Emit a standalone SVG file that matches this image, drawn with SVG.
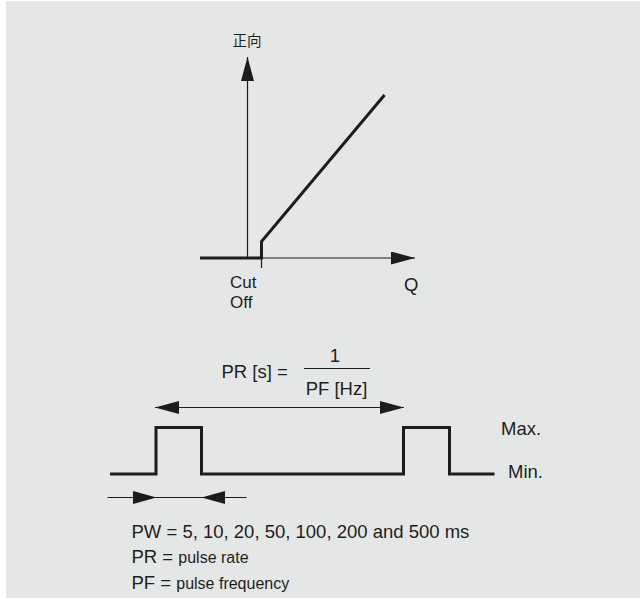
<svg xmlns="http://www.w3.org/2000/svg" width="640" height="598" viewBox="0 0 640 598">
<style>
.thin{stroke:#1c1c1c;stroke-width:1.2;fill:none}
.thick{stroke:#1c1c1c;stroke-width:3;fill:none;stroke-linejoin:miter}
.head{fill:#1c1c1c;stroke:none}
.t{font-family:"Liberation Sans",Arial,sans-serif;font-size:18.5px;fill:#1e1e1e}
.c{font-size:17px}
.s{font-size:16px}
.cjk{font-family:"Noto Sans CJK SC","Noto Sans CJK JP",sans-serif;font-size:14.5px;fill:#1e1e1e}
</style>
<defs>
<marker id="arr" viewBox="0 0 24 13" refX="24" refY="6.5" markerWidth="24" markerHeight="13" markerUnits="userSpaceOnUse" orient="auto-start-reverse">
<path d="M0,0 L24,6.5 L0,13 Z" fill="#1c1c1c"/>
</marker>
</defs>
<rect x="0" y="0" width="640" height="598" fill="#ffffff"/>
<rect x="6" y="1" width="634" height="597" fill="#e5e7e6"/>
<g id="connectors">
<line class="thin" x1="247.5" y1="258" x2="247.5" y2="57" marker-end="url(#arr)"/>
<line class="thin" x1="247.5" y1="258" x2="415" y2="258" marker-end="url(#arr)"/>
<line class="thin" x1="261.5" y1="258" x2="261.5" y2="268"/>
<polyline class="thick" points="200,258 261.5,258 261.5,241.5 384.5,95"/>
<line class="thin" x1="155" y1="407.5" x2="404" y2="407.5" marker-start="url(#arr)" marker-end="url(#arr)"/>
<polyline class="thick" points="110,474 156,474 156,427.5 201.5,427.5 201.5,474 403.5,474 403.5,427.5 449.5,427.5 449.5,474 494.5,474"/>
<line class="thin" x1="107.5" y1="497.5" x2="246.5" y2="497.5"/>
<path class="head" d="M133,491 L156.5,497.5 L133,504 Z"/>
<path class="head" d="M225,491 L201.5,497.5 L225,504 Z"/>
<line class="thin" x1="304" y1="368.5" x2="370" y2="368.5"/>
</g>
<g id="axis-label-y"><text class="cjk" x="247" y="45.5" text-anchor="middle">正向</text></g>
<g id="axis-label-x"><text class="t" x="404" y="291">Q</text></g>
<g id="cutoff-label"><text class="t c" x="230" y="288">Cut</text><text class="t c" x="230" y="307.5">Off</text></g>
<g id="formula">
<text class="t" x="221.5" y="378">PR [s] =</text>
<text class="t" x="335" y="361.5" text-anchor="middle">1</text>
<text class="t" x="336.5" y="395" text-anchor="middle">PF [Hz]</text>
</g>
<g id="level-labels">
<text class="t" x="501" y="435">Max.</text>
<text class="t" x="508" y="477.5">Min.</text>
</g>
<g id="legend">
<text class="t" x="131.5" y="537.5">PW = 5, 10, 20, 50, 100, 200 and 500 ms</text>
<text class="t" x="131.5" y="562.5">PR = <tspan class="s">pulse rate</tspan></text>
<text class="t" x="131.5" y="588.5">PF = <tspan class="s">pulse frequency</tspan></text>
</g>
</svg>
